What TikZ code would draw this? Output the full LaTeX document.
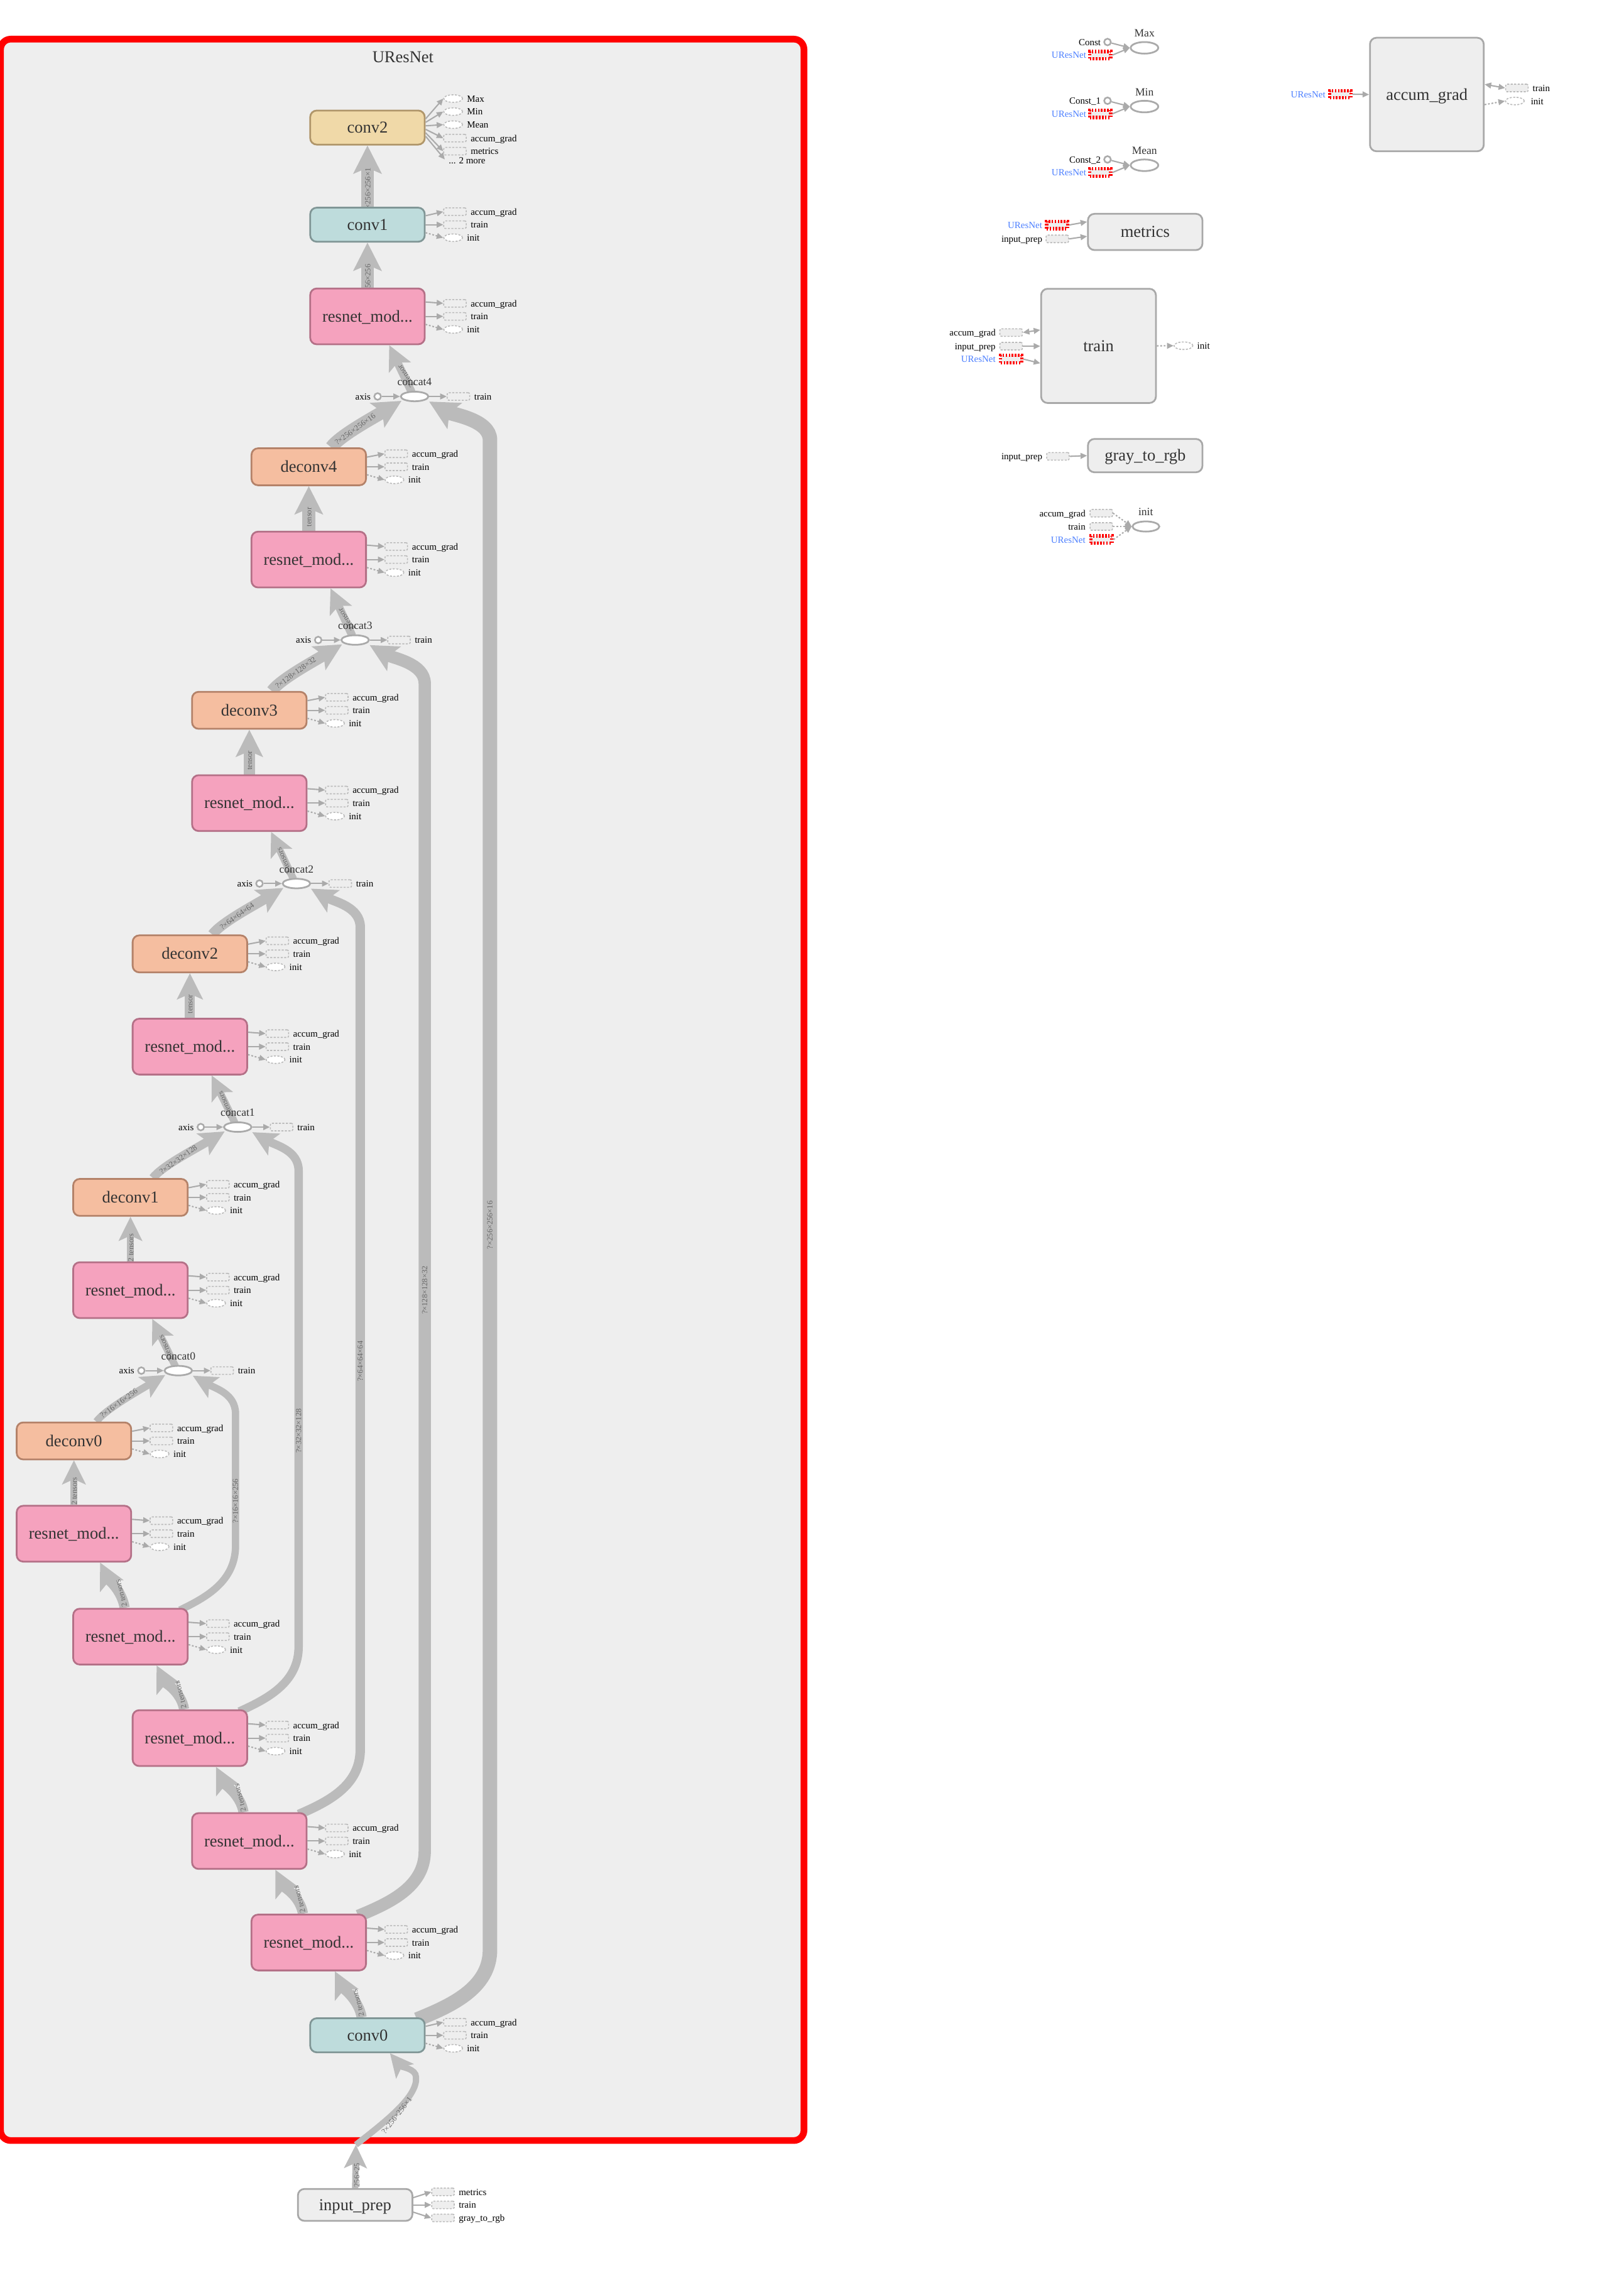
\documentclass[tikz,border=0pt]{standalone}
\usepackage{fontspec}
\setmainfont{Liberation Serif}
\usetikzlibrary{arrows.meta,calc,shapes.geometric}

\definecolor{edgegray}{HTML}{BBBBBB}
\definecolor{stubgray}{HTML}{AAAAAA}
\definecolor{panel}{HTML}{EEEEEE}
\definecolor{ink}{HTML}{333333}
\definecolor{labelink}{HTML}{666666}
\definecolor{tanfill}{HTML}{F0D9A8}
\definecolor{tanline}{HTML}{B0966A}
\definecolor{tealfill}{HTML}{BEDCDC}
\definecolor{tealline}{HTML}{809696}
\definecolor{pinkfill}{HTML}{F5A2BE}
\definecolor{pinkline}{HTML}{B47087}
\definecolor{peachfill}{HTML}{F5BEA0}
\definecolor{peachline}{HTML}{B48269}
\definecolor{greyline}{HTML}{A8A8A8}
\definecolor{linkblue}{HTML}{4D80FF}
\definecolor{groupred}{HTML}{FF0000}

\newcommand\fntBig{\fontsize{11.5pt}{13pt}\selectfont}
\newcommand\fntMid{\fontsize{7.6pt}{9pt}\selectfont}
\newcommand\fntSmall{\fontsize{6.5pt}{7.5pt}\selectfont}
\newcommand\fntTiny{\fontsize{5.4pt}{6pt}\selectfont}

\pgfdeclarelayer{back}
\pgfdeclarelayer{edges}
\pgfsetlayers{back,edges,main}

\tikzset{
  opbox/.style={rectangle, rounded corners=4.5pt, line width=1.2pt, text=ink, font=\fntBig,
    inner sep=0pt, minimum width=79pt, text height=7.5pt, text depth=0pt},
  tanbox/.style={opbox, fill=tanfill, draw=tanline, minimum height=23.5pt},
  tealbox/.style={opbox, fill=tealfill, draw=tealline, minimum height=23.5pt},
  pinkbox/.style={opbox, fill=pinkfill, draw=pinkline, minimum height=38.5pt},
  peachbox/.style={opbox, fill=peachfill, draw=peachline, minimum height=25.5pt},
  greybox/.style={opbox, fill=panel, draw=greyline, minimum height=22pt},
  stubrect/.style={rectangle, draw=edgegray, fill=panel, line width=0.7pt, dash pattern=on 1.4pt off 1pt,
    rounded corners=1pt, minimum width=15.5pt, minimum height=5.2pt, inner sep=0pt},
  stubell/.style={ellipse, draw=edgegray, fill=white, line width=0.7pt, dash pattern=on 1.4pt off 1pt,
    minimum width=13pt, minimum height=5.2pt, inner sep=0pt},
  stubtxt/.style={font=\fntSmall, text=black, inner sep=0pt, anchor=west, text height=4.5pt, text depth=0pt},
  lefttxt/.style={stubtxt, anchor=east},
  reftxt/.style={lefttxt, text=linkblue},
  refbox/.style={rectangle, draw=groupred, fill=panel, line width=2.3pt, dash pattern=on 1.1pt off 1pt,
    minimum width=14.5pt, minimum height=5pt, inner sep=0pt},
  dotnode/.style={circle, draw=stubgray, fill=white, line width=1.1pt, minimum size=4.6pt, inner sep=0pt},
  opell/.style={ellipse, draw=stubgray, fill=white, line width=1.2pt, minimum width=19pt, minimum height=8pt, inner sep=0pt},
  catell/.style={opell, minimum height=6.6pt},
  stublink/.style={draw=stubgray, line width=0.9pt, -{Triangle[length=4.5pt,width=4pt]}},
  stubdot/.style={stublink, dash pattern=on 1.2pt off 1.2pt},
  twoway/.style={draw=stubgray, line width=0.9pt, {Triangle[length=4.5pt,width=4pt]}-{Triangle[length=4.5pt,width=4pt]}},
  flow/.style={draw=edgegray, line width=#1, -{Stealth[length=13pt 0.7, width=12pt 0.8, inset=3pt 0.1]}},
  elabel/.style={font=\fntTiny, text=labelink, inner sep=0pt},
  oplabel/.style={font=\fntMid, text=ink, inner sep=0pt},
}

% accum_grad / train / init outputs on the right of an op node
\newcommand\opstubs[1]{%
  \node[stubrect] (#1-ag) at ($(#1.east)+(20.25,-9)$) {};
  \node[stubrect] (#1-tr) at ($(#1.east)+(20.25,0)$) {};
  \node[stubell]  (#1-in) at ($(#1.east)+(19,9)$) {};
  \node[stubtxt] at ($(#1-ag.east)+(2.6,0)$) {accum\_grad};
  \node[stubtxt] at ($(#1-tr.east)+(2.6,0)$) {train};
  \node[stubtxt] at ($(#1-in.east)+(2.5,0)$) {init};
  \draw[stublink] ($(#1.east)!0.5!(#1.north east)$) -- (#1-ag.west);
  \draw[stublink] (#1.east) -- (#1-tr.west);
  \draw[stubdot] ($(#1.east)+(0,5.5)$) -- (#1-in.west);
}

% concat op with its axis constant and train output
\newcommand\catnode[4]{%
  \node[catell] (#1) at (#2,#3) {};
  \node[oplabel] at ($(#1)+(0,-10)$) {#4};
  \node[dotnode] (#1-ax) at ($(#1)+(-25.5,0)$) {};
  \node[stubtxt, anchor=east] at ($(#1-ax.west)+(-1.8,0)$) {axis};
  \node[stubrect] (#1-tr) at ($(#1)+(30.25,0)$) {};
  \node[stubtxt] at ($(#1-tr.east)+(2.6,0)$) {train};
  \draw[stublink] (#1-ax) -- (#1);
  \draw[stublink] (#1) -- (#1-tr);
}

% reduction op fed by a constant and the UResNet output
\newcommand\reduceop[5]{%
  \node[oplabel] at (789.5,#2) {#1};
  \node[opell] (#5) at (789.5,#2+10) {};
  \node[dotnode] (#5-c) at (764,#2+6) {};
  \node[lefttxt] at (759.5,#2+6) {#3};
  \node[refbox] (#5-u) at (759,#2+15) {};
  \node[reftxt] at (749.5,#2+15) {#4};
  \draw[stublink] (#5-c) -- (#5.west);
  \draw[stublink] (#5-u.east) -- (#5.west);
}

\begin{document}
\begin{tikzpicture}[x=1pt,y=-1pt]
\useasboundingbox (0,0) rectangle (1120,1568);
\begin{pgfonlayer}{back}
  \fill[white] (0,0) rectangle (1120,1568);
  \draw[groupred, line width=4.6pt, fill=panel, rounded corners=7pt] (0.4,27) rectangle (554.6,1476.6);
\end{pgfonlayer}

\node[font=\fntBig, text=ink] (title) at (278,39.5) {UResNet};

% ---------- UResNet column ----------
\node[tanbox]   (conv2)   at (253.5,88)     {conv2};
\node[tealbox]  (conv1)   at (253.5,155)    {conv1};
\node[pinkbox]  (res0)    at (253.5,218.25) {resnet\_mod...};
\node[peachbox] (deconv4) at (213,322)      {deconv4};
\node[pinkbox]  (res1)    at (213,386)      {resnet\_mod...};
\node[peachbox] (deconv3) at (172,490)      {deconv3};
\node[pinkbox]  (res2)    at (172,554)      {resnet\_mod...};
\node[peachbox] (deconv2) at (131,658)      {deconv2};
\node[pinkbox]  (res3)    at (131,722)      {resnet\_mod...};
\node[peachbox] (deconv1) at (90,826)       {deconv1};
\node[pinkbox]  (res4)    at (90,890)       {resnet\_mod...};
\node[peachbox] (deconv0) at (51,994)       {deconv0};
\node[pinkbox]  (res5)    at (51,1058)      {resnet\_mod...};
\node[pinkbox]  (res6)    at (90,1129)      {resnet\_mod...};
\node[pinkbox]  (res7)    at (131,1199)     {resnet\_mod...};
\node[pinkbox]  (res8)    at (172,1270)     {resnet\_mod...};
\node[pinkbox]  (res9)    at (213,1340)     {resnet\_mod...};
\node[tealbox]  (conv0)   at (253.5,1404)   {conv0};
\node[greybox]  (inprep)  at (245,1521)     {input\_prep};

\catnode{concat4}{286}{273.5}{concat4}
\catnode{concat3}{245}{441.5}{concat3}
\catnode{concat2}{204.5}{609.5}{concat2}
\catnode{concat1}{164}{777.5}{concat1}
\catnode{concat0}{123}{945.5}{concat0}

\foreach \n in {conv1,res0,deconv4,res1,deconv3,res2,deconv2,res3,deconv1,res4,deconv0,res5,res6,res7,res8,res9,conv0}
  {\opstubs{\n}}

% conv2 outputs
\node[stubell]  (c2-max)  at ($(conv2.east)+(19,-20)$) {};
\node[stubell]  (c2-min)  at ($(conv2.east)+(19,-11)$) {};
\node[stubell]  (c2-mean) at ($(conv2.east)+(19,-2)$) {};
\node[stubrect] (c2-ag)   at ($(conv2.east)+(20.25,7.3)$) {};
\node[stubrect] (c2-met)  at ($(conv2.east)+(20.25,16.3)$) {};
\node[stubtxt]  (c2-more) at ($(conv2.east)+(15.75,22.5)$) {... 2 more};
\node[stubtxt] at ($(c2-max.east)+(2.5,0)$) {Max};
\node[stubtxt] at ($(c2-min.east)+(2.5,0)$) {Min};
\node[stubtxt] at ($(c2-mean.east)+(2.5,0)$) {Mean};
\node[stubtxt] at ($(c2-ag.east)+(2.6,0)$) {accum\_grad};
\node[stubtxt] at ($(c2-met.east)+(2.6,0)$) {metrics};
\draw[stublink] ($(conv2.east)+(0,-6)$) -- (c2-max.west);
\draw[stublink] ($(conv2.east)+(0,-3.6)$) -- (c2-min.west);
\draw[stublink] ($(conv2.east)+(0,-1.2)$) -- (c2-mean.west);
\draw[stublink] ($(conv2.east)+(0,1.2)$) -- (c2-ag.west);
\draw[stublink] ($(conv2.east)+(0,3.6)$) -- (c2-met.west);
\draw[stublink] ($(conv2.east)+(0,6)$) -- ($(c2-more.west)+(-2.5,-0.5)$);

% input_prep outputs
\node[stubrect] (ip-m) at ($(inprep.east)+(20.5,-9)$) {};
\node[stubrect] (ip-t) at ($(inprep.east)+(20.5,0)$) {};
\node[stubrect] (ip-g) at ($(inprep.east)+(20.5,9)$) {};
\node[stubtxt] at ($(ip-m.east)+(2.6,0)$) {metrics};
\node[stubtxt] at ($(ip-t.east)+(2.6,0)$) {train};
\node[stubtxt] at ($(ip-g.east)+(2.6,0)$) {gray\_to\_rgb};
\draw[stublink] ($(inprep.east)+(0,-5)$) -- (ip-m.west);
\draw[stublink] (inprep.east) -- (ip-t.west);
\draw[stublink] ($(inprep.east)+(0,5)$) -- (ip-g.west);

% ---------- auxiliary nodes ----------
\reduceop{Max}{23}{Const}{UResNet}{rmax}
\reduceop{Min}{63.5}{Const\_1}{UResNet}{rmin}
\reduceop{Mean}{104}{Const\_2}{UResNet}{rmean}

\node[greybox, minimum width=78.5pt, minimum height=78.3pt] (accbox) at (984.3,65.2) {accum\_grad};
\node[refbox] (acc-u) at (924.6,65) {};
\node[reftxt] at (914.5,65.2) {UResNet};
\draw[stublink] (acc-u.east) -- (accbox.west);
\node[stubrect] (acc-tr) at (1046.4,60.7) {};
\node[stubell]  (acc-in) at (1045,69.7) {};
\node[stubtxt] at ($(acc-tr.east)+(2.6,0)$) {train};
\node[stubtxt] at ($(acc-in.east)+(4,0)$) {init};
\draw[twoway] ($(accbox.east)+(0,-7)$) -- (acc-tr.west);
\draw[stubdot] ($(accbox.east)+(0,7)$) -- (acc-in.west);

\node[greybox, minimum height=25pt] (metbox) at (790,160) {metrics};
\node[refbox] (met-u) at (729.2,155.2) {};
\node[reftxt] at (719.2,155.4) {UResNet};
\node[stubrect] (met-i) at (729.4,164.8) {};
\node[lefttxt] at (719.2,164.8) {input\_prep};
\draw[stublink] (met-u.east) -- ($(metbox.west)+(0,-7)$);
\draw[stublink] (met-i.east) -- ($(metbox.west)+(0,3)$);

\node[greybox, minimum width=79.2pt, minimum height=78.8pt] (trbox) at (757.8,238.6) {train};
\node[stubrect] (tr-a) at (697.5,229.4) {};
\node[stubrect] (tr-i) at (697.5,238.8) {};
\node[refbox]   (tr-u) at (697.5,247.7) {};
\node[lefttxt] at (687,229.4) {accum\_grad};
\node[lefttxt] at (687,238.8) {input\_prep};
\node[reftxt]  at (687,247.7) {UResNet};
\draw[twoway] (tr-a.east) -- ($(trbox.west)+(0,-11)$);
\draw[stublink] (tr-i.east) -- ($(trbox.west)+(0,0.2)$);
\draw[stublink] (tr-u.east) -- ($(trbox.west)+(0,12)$);
\node[stubell] (tr-in) at (816.4,238.5) {};
\node[stubtxt] at (825.7,238.5) {init};
\draw[stubdot] (trbox.east) -- (tr-in.west);

\node[greybox, minimum height=23pt] (g2r) at (790,314.3) {gray\_to\_rgb};
\node[stubrect] (g2r-i) at (729.8,314.8) {};
\node[lefttxt] at (719.2,314.8) {input\_prep};
\draw[stublink] (g2r-i.east) -- (g2r.west);

\node[oplabel] at (790.4,353.3) {init};
\node[opell, minimum width=18.5pt, minimum height=7pt] (initop) at (790.5,363.2) {};
\node[stubrect] (in-a) at (759.7,354) {};
\node[stubrect] (in-t) at (759.7,363.2) {};
\node[refbox]   (in-u) at (759.8,372.2) {};
\node[lefttxt] at (749,354) {accum\_grad};
\node[lefttxt] at (749,363.2) {train};
\node[reftxt]  at (749,372.2) {UResNet};
\draw[stubdot] (in-a.east) -- (initop.west);
\draw[stubdot] (in-t.east) -- (initop.west);
\draw[stubdot] (in-u.east) -- (initop.west);

% ---------- data-flow edges ----------
\begin{pgfonlayer}{edges}
  % input into the group
  \coordinate (entry) at (245.5,1479.5);
  \coordinate (inbend) at (287,1433);
  \draw[flow=4.3pt] (inprep.north) -- (entry);
  \draw[flow=4.3pt] (entry) .. controls (268,1462) and (288,1446) .. (inbend)
        .. controls (287,1427) and (277,1426) .. ($(conv0.south)+(15.5,0)$);
  \node[elabel, rotate=90] at (246.2,1500.5) {256×25};
  \node[elabel, rotate=52] at (273.7,1459.3) {?×256×256×1};

  % encoder chain
  \foreach \a/\b in {conv0/res9,res9/res8,res8/res7,res7/res6,res6/res5}{
    \draw[flow=7pt] ($(\a.north)+(-4,0)$) .. controls ($(\a.north)+(-6,-12)$) and ($(\b.south)+(24,12)$) .. ($(\b.south)+(18,0)$);
    \node[elabel, rotate=105] at ($(\a.north)+(-6.5,-10)$) {2 tensors};
  }

  % resnet -> deconv
  \draw[flow=9pt] (res1.north) -- (deconv4.south);
  \draw[flow=8pt] (res2.north) -- (deconv3.south);
  \draw[flow=7pt] (res3.north) -- (deconv2.south);
  \draw[flow=5pt] (res4.north) -- (deconv1.south);
  \draw[flow=5pt] (res5.north) -- (deconv0.south);
  \node[elabel, rotate=90] at ($(res1.north)+(0.3,-9.5)$) {tensor};
  \node[elabel, rotate=90] at ($(res2.north)+(0.3,-9.5)$) {tensor};
  \node[elabel, rotate=90] at ($(res3.north)+(0.3,-9.5)$) {tensor};
  \node[elabel, rotate=90] at ($(res4.north)+(0.3,-9.5)$) {2 tensors};
  \node[elabel, rotate=90] at ($(res5.north)+(0.3,-9.5)$) {2 tensors};

  % deconv -> concat
  \draw[flow=9pt] ($(deconv4.north)+(15.5,0)$) .. controls ($(deconv4.north)+(21.5,-8)$) and ($(concat4)+(-31,16)$) .. ($(concat4)+(-9,3)$);
  \draw[flow=8pt] ($(deconv3.north)+(15.5,0)$) .. controls ($(deconv3.north)+(21.5,-8)$) and ($(concat3)+(-31,16)$) .. ($(concat3)+(-9,3)$);
  \draw[flow=7pt] ($(deconv2.north)+(15.5,0)$) .. controls ($(deconv2.north)+(21.5,-8)$) and ($(concat2)+(-31,16)$) .. ($(concat2)+(-9,3)$);
  \draw[flow=6pt] ($(deconv1.north)+(15.5,0)$) .. controls ($(deconv1.north)+(21.5,-8)$) and ($(concat1)+(-31,16)$) .. ($(concat1)+(-9,3)$);
  \draw[flow=5pt] ($(deconv0.north)+(15.5,0)$) .. controls ($(deconv0.north)+(21.5,-8)$) and ($(concat0)+(-31,16)$) .. ($(concat0)+(-9,3)$);
  \node[elabel, rotate=36] at ($(concat4)+(-41,22.5)$) {?×256×256×16};
  \node[elabel, rotate=36] at ($(concat3)+(-41,22.5)$) {?×128×128×32};
  \node[elabel, rotate=36] at ($(concat2)+(-41,22.5)$) {?×64×64×64};
  \node[elabel, rotate=36] at ($(concat1)+(-41,22.5)$) {?×32×32×128};
  \node[elabel, rotate=36] at ($(concat0)+(-41,22.5)$) {?×16×16×256};

  % skip connections
  \draw[flow=10pt] ($(conv0.north east)+(-6,1.5)$) .. controls (310,1384) and (338,1372) .. (338,1345)
        -- (338,303.5) .. controls (338,289.5) and (312,286) .. ($(concat4)+(10,3.5)$);
  \draw[flow=8.5pt] ($(res9.north east)+(-6,1.5)$) .. controls (268,1313) and (293,1302) .. (293,1277)
        -- (293,471.5) .. controls (293,457.5) and (271,454) .. ($(concat3)+(10,3.5)$);
  \draw[flow=6.5pt] ($(res8.north east)+(-6,1.5)$) .. controls (226,1243) and (248.5,1232) .. (248.5,1207)
        -- (248.5,639.5) .. controls (248.5,625.5) and (230.5,622) .. ($(concat2)+(10,3.5)$);
  \draw[flow=5.8pt] ($(res7.north east)+(-6,1.5)$) .. controls (184,1172) and (206,1161) .. (206,1136)
        -- (206,807.5) .. controls (206,793.5) and (190,790) .. ($(concat1)+(10,3.5)$);
  \draw[flow=5pt] ($(res6.north east)+(-6,1.5)$) .. controls (142,1102) and (162.5,1091) .. (162.5,1066)
        -- (162.5,975.5) .. controls (162.5,961.5) and (149,958) .. ($(concat0)+(10,3.5)$);
  \node[elabel, rotate=90] at (338,845) {?×256×256×16};
  \node[elabel, rotate=90] at (293,890) {?×128×128×32};
  \node[elabel, rotate=90] at (248.5,939) {?×64×64×64};
  \node[elabel, rotate=90] at (206,987) {?×32×32×128};
  \node[elabel, rotate=90] at (162.5,1035.5) {?×16×16×256};

  % concat -> resnet
  \draw[flow=5.5pt] ($(concat4)+(-2,-3)$) -- ($(res0.south)+(15,0)$);
  \draw[flow=5.5pt] ($(concat3)+(-2,-3)$) -- ($(res1.south)+(15,0)$);
  \draw[flow=5pt] ($(concat2)+(-2,-3)$) -- ($(res2.south)+(15,0)$);
  \draw[flow=5pt] ($(concat1)+(-2,-3)$) -- ($(res3.south)+(15,0)$);
  \draw[flow=5pt] ($(concat0)+(-2,-3)$) -- ($(res4.south)+(15,0)$);
  \node[elabel, rotate=123] at ($(concat4)+(-6,-14)$) {2 tensor};
  \node[elabel, rotate=123] at ($(concat3)+(-6,-14)$) {2 tensor};
  \node[elabel, rotate=113] at ($(concat2)+(-8.5,-15.5)$) {2 tensors};
  \node[elabel, rotate=113] at ($(concat1)+(-8.5,-15.5)$) {2 tensors};
  \node[elabel, rotate=113] at ($(concat0)+(-8.5,-15.5)$) {2 tensors};

  % top of the decoder
  \draw[flow=9pt] (res0.north) -- (conv1.south);
  \draw[flow=9pt] (conv1.north) -- (conv2.south);
  \node[elabel, rotate=90] at (253.8,190.6) {56×256};
  \node[elabel, rotate=90] at (253.8,130) {×256×256×1};
\end{pgfonlayer}
\end{tikzpicture}
\end{document}
